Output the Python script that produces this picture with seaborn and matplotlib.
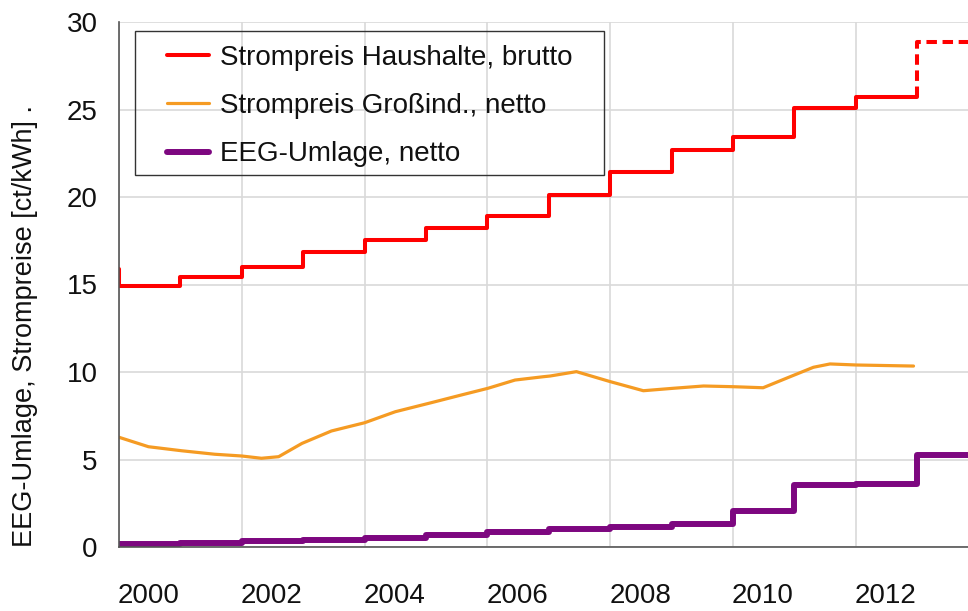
import numpy as np
import matplotlib
matplotlib.use("Agg")
import matplotlib.pyplot as plt
import matplotlib.transforms as mtransforms
from matplotlib.patches import Rectangle
from matplotlib.ticker import MultipleLocator
import seaborn as sns

# Strompreis Haushalte, brutto (step per year, 1999 value only shows as the drop at 2000)
hh_years = [1999, 2000, 2001, 2002, 2003, 2004, 2005, 2006, 2007, 2008, 2009, 2010, 2011, 2012]
hh_price = [15.9, 14.9, 15.43, 16.02, 16.86, 17.54, 18.23, 18.91, 20.11, 21.43, 22.69, 23.43, 25.09, 25.71]
hh_2013 = 28.86  # forecast, dashed

# Strompreis Großindustrie, netto
ind_time = [2000.0, 2000.48, 2001.02, 2001.56, 2002.0, 2002.32, 2002.6, 2002.98, 2003.46, 2004.0,
            2004.5, 2005.09, 2005.58, 2006.01, 2006.45, 2006.91, 2007.02, 2007.45, 2008.0, 2008.54,
            2009.03, 2009.52, 2010.0, 2010.49, 2010.93, 2011.31, 2011.58, 2012.01, 2012.94]
ind_price = [6.27, 5.73, 5.50, 5.30, 5.20, 5.07, 5.16, 5.92, 6.63, 7.10,
             7.73, 8.25, 8.69, 9.07, 9.54, 9.73, 9.77, 10.02, 9.45, 8.93,
             9.07, 9.20, 9.16, 9.10, 9.73, 10.27, 10.46, 10.40, 10.34]

# EEG-Umlage, netto
eeg_years = [2000, 2001, 2002, 2003, 2004, 2005, 2006, 2007, 2008, 2009, 2010, 2011, 2012, 2013]
eeg_value = [0.2, 0.25, 0.35, 0.41, 0.51, 0.69, 0.88, 1.02, 1.16, 1.31, 2.05, 3.53, 3.59, 5.28]

year_ticks = [2000, 2002, 2004, 2006, 2008, 2010, 2012]

RED = "#FF0000"
ORANGE = "#F59B23"
PURPLE = "#7D0780"

sns.set_style("white")
plt.rcParams["font.family"] = ["Liberation Sans", "DejaVu Sans"]

fig = plt.figure(figsize=(9.68, 6.11), dpi=100)
ax = fig.add_axes([119 / 968, 64 / 611, 849 / 968, 525 / 611])

line_kw = dict(ax=ax, sort=False, estimator=None, errorbar=None)

# step lines need an end point, so the last value is held one more year
sns.lineplot(x=hh_years + [2013], y=hh_price + [hh_price[-1]], color=RED, lw=2.9,
             drawstyle="steps-post", label="Strompreis Haushalte, brutto", **line_kw)
sns.lineplot(x=[2013, 2013, 2014], y=[hh_price[-1], hh_2013, hh_2013], color=RED,
             lw=2.9, dashes=(2.6, 1.4), label="_nolegend_", **line_kw)
sns.lineplot(x=ind_time, y=ind_price, color=ORANGE, lw=2.3,
             label="Strompreis Großind., netto", **line_kw)
sns.lineplot(x=eeg_years + [2014], y=eeg_value + [eeg_value[-1]], color=PURPLE, lw=4.3,
             drawstyle="steps-post", label="EEG-Umlage, netto", **line_kw)

ax.set_xlim(2000, 2000 + 849 / 61.4)
ax.set_ylim(0, 30)
ax.set_yticks([0, 5, 10, 15, 20, 25, 30])
ax.yaxis.set_minor_locator(MultipleLocator(1))
ax.set_xticks(year_ticks)
ax.set_xticklabels([str(y) for y in year_ticks])
ax.xaxis.set_minor_locator(MultipleLocator(1))

ax.grid(True, which="major", color="#d9d9d9", lw=1.2)
ax.set_axisbelow(True)
for side in ["top", "right"]:
    ax.spines[side].set_visible(False)
for side in ["left", "bottom"]:
    ax.spines[side].set_color("#555555")
    ax.spines[side].set_linewidth(1.2)

ax.tick_params(axis="both", which="major", labelsize=20, color="#555555", width=1.2,
               direction="out", labelcolor="#111111")
ax.tick_params(axis="y", which="major", length=6.5, pad=9)
ax.tick_params(axis="x", which="major", length=7.2, pad=19)
ax.tick_params(axis="both", which="minor", direction="in", length=4, color="#555555", width=1.0)

# year labels sit in the middle of the year, not on the gridline
offset = mtransforms.ScaledTranslation(0.30, 0, fig.dpi_scale_trans)
for lab in ax.get_xticklabels():
    lab.set_transform(lab.get_transform() + offset)

ax.set_xlabel("")
ax.set_ylabel("EEG-Umlage, Strompreise [ct/kWh] .", fontsize=19.5, color="#111111")
ax.yaxis.set_label_coords(-0.0954, 0.421)

handles, labels = ax.get_legend_handles_labels()
leg = ax.legend(handles, labels, loc="upper left", bbox_to_anchor=(153 / 968, 1 - 31 / 611),
                bbox_transform=fig.transFigure, frameon=False, fontsize=20, borderpad=0,
                handlelength=1.5, handletextpad=0.4, labelspacing=0.8)
for t in leg.get_texts():
    t.set_color("#111111")

fig.add_artist(Rectangle((135 / 968, 1 - 175 / 611), (604 - 135) / 968, (175 - 31) / 611,
                         transform=fig.transFigure, fill=False, ec="#333333", lw=1.0))

fig.savefig("out.png", dpi=100)
